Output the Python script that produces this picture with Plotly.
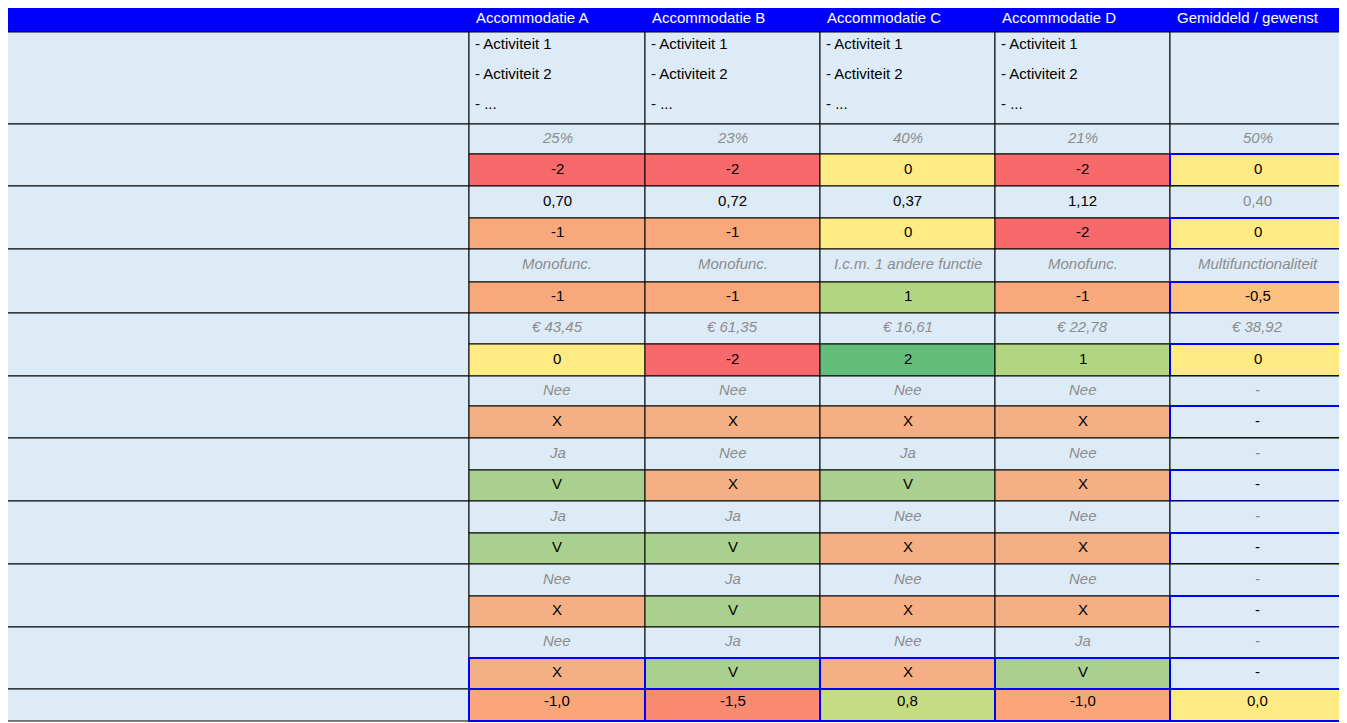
import plotly.graph_objects as go

# data
columns = ["Accommodatie A", "Accommodatie B", "Accommodatie C", "Accommodatie D", "Gemiddeld / gewenst"]
criteria = [
    ["2. Bezettingsgraad (aantal personen t.o.v. capaciteit)"],
    ["3. Omvang accommodatie per inwoner van de kern"],
    ["4. Differentatie - meervoudig gebruik van accommodatie"],
    ["5. Jaarlijkse onderhoudskosten i.r.t. grootte (in m2) van", "voorziening"],
    ["6. Mogelijkheid om activiteit onder te brengen in een", "andere accommodatie in de kern."],
    ["7. Mogelijkheid om activiteit onder te brengen in een", "andere accommodatie buiten de kern."],
    ["8. Aanwezigheid van lokale horeca die concurrerend is", "aan de accommodatie."],
    ["9. Mogelijkheid om activiteit onder te brengen in", "samenwerking met lokale horeca."],
    ["10. Knock-out: laatste voorziening in kern?"],
]
measured = [
    ["25%", "23%", "40%", "21%", "50%"],
    ["0,70", "0,72", "0,37", "1,12", "0,40"],
    ["Monofunc.", "Monofunc.", "I.c.m. 1 andere functie", "Monofunc.", "Multifunctionaliteit"],
    ["€ 43,45", "€ 61,35", "€ 16,61", "€ 22,78", "€ 38,92"],
    ["Nee", "Nee", "Nee", "Nee", "-"],
    ["Ja", "Nee", "Ja", "Nee", "-"],
    ["Ja", "Ja", "Nee", "Nee", "-"],
    ["Nee", "Ja", "Nee", "Nee", "-"],
    ["Nee", "Ja", "Nee", "Ja", "-"],
]
scores = [
    ["-2", "-2", "0", "-2", "0"],
    ["-1", "-1", "0", "-2", "0"],
    ["-1", "-1", "1", "-1", "-0,5"],
    ["0", "-2", "2", "1", "0"],
    ["X", "X", "X", "X", "-"],
    ["V", "X", "V", "X", "-"],
    ["V", "V", "X", "X", "-"],
    ["X", "V", "X", "X", "-"],
    ["X", "V", "X", "V", "-"],
]
totals = ["-1,0", "-1,5", "0,8", "-1,0", "0,0"]

score_colors = {"-2": "#F8696B", "-1": "#F9A87C", "0": "#FFEB84", "1": "#B1D580",
                "2": "#63BE7B", "-0,5": "#FCC07F", "X": "#F4B084", "V": "#A9D08E", "-": "#DDEBF7"}
total_colors = ["#FAA57A", "#FA8B72", "#C5DC82", "#FAA57A", "#FFEB84"]

BODY = "#DDEBF7"
FONT = "Liberation Sans"
xb = [3, 469, 645, 820, 995, 1170, 1345]
row_tops = [124, 186, 249, 313, 376, 438, 501, 564, 627]
row_mids = [154, 218, 282, 344, 406, 470, 533, 596, 658]
row_bots = row_tops[1:] + [689]

shapes, anns = [], []

def rect(x0, y0, x1, y1, fill, line="#000000", w=1):
    shapes.append(dict(type="rect", x0=x0, y0=y0, x1=x1, y1=y1, fillcolor=fill,
                       line=dict(color=line, width=w), layer="below"))

def txt(x, y, s, color="#000000", italic=False, anchor="center", size=15):
    anns.append(dict(x=x, y=y, text=s, showarrow=False, xanchor=anchor, yanchor="middle",
                     font=dict(family=FONT, size=size, color=color,
                               style="italic" if italic else "normal")))

# header
rect(xb[0], 3, xb[-1], 32, "#0000FF")
for i, c in enumerate(columns):
    txt(xb[i + 1] + 5, 17, c, color="white", anchor="left")

# row 1
rect(xb[0], 32, xb[1], 124, BODY)
txt(7, 73, "1. Activiteiten", anchor="left")
for i in range(5):
    rect(xb[i + 1], 32, xb[i + 2], 124, BODY)
    if i < 4:
        for k, s in enumerate(["- Activiteit 1", "- Activiteit 2", "- ..."]):
            txt(xb[i + 1] + 4, 43 + 30 * k, s, anchor="left")

for r in range(len(criteria)):
    t, m, b = row_tops[r], row_mids[r], row_bots[r]
    rect(xb[0], t, xb[1], b, BODY)
    if len(criteria[r]) == 1:
        txt(7, (t + b) / 2, criteria[r][0], anchor="left")
    else:
        txt(7, t + 12, criteria[r][0], anchor="left")
        txt(7, m + 9, criteria[r][1], anchor="left")
    for i in range(5):
        x0, x1 = xb[i + 1], xb[i + 2]
        rect(x0, t, x1, m, BODY)
        txt((x0 + x1) / 2, (t + m) / 2 - 2, measured[r][i],
            color="#000000" if (r == 1 and i < 4) else "#8C8C8C", italic=not (r == 1))
        s = scores[r][i]
        blue = i == 4 or r == 8
        rect(x0, m, x1, b, score_colors[s], line="#0000FF" if blue else "#000000", w=2 if blue else 1)
        txt((x0 + x1) / 2, (m + b) / 2 - 2, s)

# totals
rect(xb[0], 689, xb[1], 721, BODY)
txt(7, 700, "Totaal", anchor="left")
for i in range(5):
    rect(xb[i + 1], 689, xb[i + 2], 721, total_colors[i], line="#0000FF", w=2)
    txt((xb[i + 1] + xb[i + 2]) / 2, 700, totals[i])

fig = go.Figure()
fig.add_trace(go.Scatter(x=[8, 1347], y=[8, 723], mode="markers", marker=dict(opacity=0), hoverinfo="skip"))
fig.update_layout(
    width=1339, height=715, margin=dict(l=0, r=0, t=0, b=0),
    plot_bgcolor="white", paper_bgcolor="white", showlegend=False,
    xaxis=dict(range=[8, 1347], visible=False, fixedrange=True),
    yaxis=dict(range=[723, 8], visible=False, fixedrange=True),
    shapes=shapes, annotations=anns,
)
fig.write_html("out.html")
